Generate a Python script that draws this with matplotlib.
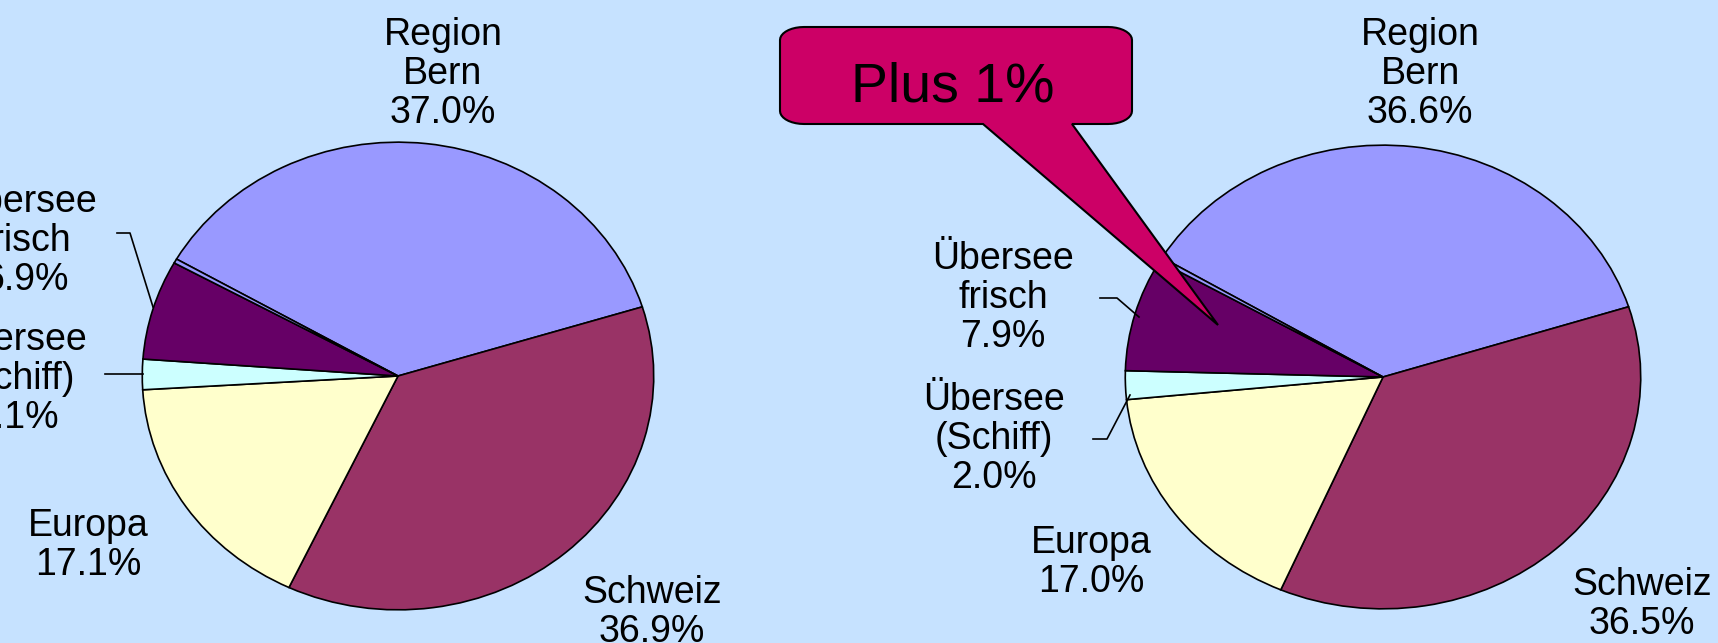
import numpy as np
import matplotlib.pyplot as plt
from matplotlib.patches import Polygon

plt.rcParams['font.family'] = ['Liberation Sans', 'DejaVu Sans']

# data
categories = ['Region\nBern', 'Schweiz', 'Europa', 'Übersee\n(Schiff)', 'Übersee\nfrisch', '']
share_before = [37.0, 36.9, 17.1, 2.1, 6.9, 0.3]
share_after = [36.6, 36.5, 17.0, 2.0, 7.9, 0.3]
callout_text = 'Plus 1%'

colors = ['#9999FF', '#993366', '#FFFFCC', '#CCFFFF', '#660066', '#9999FF']
bg = '#C6E2FF'

W, H = 1718, 643
fig = plt.figure(figsize=(W / 100, H / 100), dpi=100, facecolor=bg)


def draw_pie(values, cx, cy, a, b, start):
    ax = fig.add_axes([(cx - a) / W, 1 - (cy + b) / H, 2 * a / W, 2 * b / H])
    ax.pie(values, colors=colors, startangle=start, counterclock=False,
           wedgeprops=dict(edgecolor='black', linewidth=1.2))
    ax.set_aspect('auto')
    ax.set_xlim(-1.005, 1.005)
    ax.set_ylim(-1.005, 1.005)
    ax.axis('off')
    return ax


draw_pie(share_before, 398, 376, 257, 235, 150)
draw_pie(share_after, 1383, 377, 259, 233, 149)

# overlay in pixel coordinates for labels, leader lines and callout
ov = fig.add_axes([0, 0, 1, 1])
ov.set_xlim(0, W)
ov.set_ylim(H, 0)
ov.axis('off')
ov.patch.set_visible(False)

# label anchors (center x, top y) per slice
pos_before = [(443, 17), (652, 575), (88, 508), (16, 322), (26, 184)]
pos_after = [(1420, 17), (1642, 567), (1091, 525), (994, 382), (1003, 241)]

for values, pos in [(share_before, pos_before), (share_after, pos_after)]:
    for name, v, (x, y) in zip(categories, values, pos):
        ov.text(x, y, f'{name}\n{v:.1f}%', ha='center', va='top',
                fontsize=27, linespacing=1.1, multialignment='center')

# leader lines
leaders = [
    [(117, 233), (130, 233), (153, 307)],
    [(105, 374), (143, 374)],
    [(1100, 298), (1117, 298), (1139, 317)],
    [(1093, 439), (1107, 439), (1130, 395)],
]
for pts in leaders:
    xs, ys = zip(*pts)
    ov.plot(xs, ys, color='black', lw=1.2)

# callout box with pointer
x0, x1, y0, y1 = 780, 1132, 27, 124
rx, ry = 24, 13
t = np.linspace(0, np.pi / 2, 10)
pts = []
pts += list(zip(x0 + rx - rx * np.cos(t), y0 + ry - ry * np.sin(t)))
pts += list(zip(x1 - rx + rx * np.sin(t), y0 + ry - ry * np.cos(t)))
pts += list(zip(x1 - rx + rx * np.cos(t), y1 - ry + ry * np.sin(t)))
pts += [(1072, y1), (1218, 325), (983, y1)]
pts += list(zip(x0 + rx - rx * np.sin(t), y1 - ry + ry * np.cos(t)))
ov.add_patch(Polygon(pts, closed=True, facecolor='#CC0066', edgecolor='black', lw=1.5))
ov.text(953, 62, callout_text, ha='center', va='top', fontsize=40)

fig.savefig('out.png', dpi=100, facecolor=bg)
